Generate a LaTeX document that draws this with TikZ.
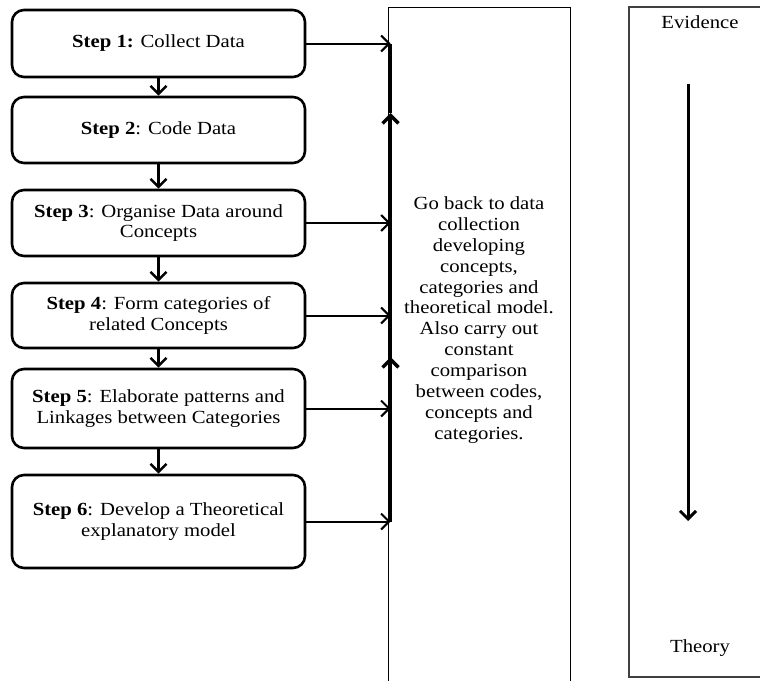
\documentclass[tikz,border=0pt]{standalone}
\usepackage{fontspec}
\setmainfont{Liberation Serif}[FakeStretch=1.12]
\usetikzlibrary{arrows.meta}
\begin{document}
\begin{tikzpicture}[x=1pt,y=-1pt,
        stepbox/.style={draw, line width=2.6pt, rounded corners=12pt,
            minimum width=293pt, align=center, inner sep=2pt,
            font=\fontsize{18.5}{20.7}\selectfont},
        link/.style={line width=2pt, -{Straight Barb[length=8pt,width=16pt]}},
        spine/.style={line width=3.4pt},
        plain/.style={font=\fontsize{18.5}{20.9}\selectfont, align=center}]
        \useasboundingbox (0,0) rectangle (760,680);

        \node[stepbox, minimum height=67pt] (step1) at (158.5,43.5) {\textbf{Step 1:} Collect Data};
        \node[stepbox, minimum height=66pt] (step2) at (158.5,130) {\textbf{Step 2}: Code Data};
        \node[stepbox, minimum height=66pt] (step3) at (158.5,223) {\textbf{Step 3}: Organise Data around\\Concepts};
        \node[stepbox, minimum height=65pt] (step4) at (158.5,315.5) {\textbf{Step 4}: Form categories of\\related Concepts};
        \node[stepbox, minimum height=79pt] (step5) at (158.5,408.5) {\textbf{Step 5}: Elaborate patterns and\\Linkages between Categories};
        \node[stepbox, minimum height=93pt] (step6) at (158.5,521.5) {\textbf{Step 6}: Develop a Theoretical\\explanatory model};

        % feedback column
        \draw[line width=1pt] (388,700) -- (388,7) -- (570,7) -- (570,700);
        \node[plain] (goBack) at (479,320) {
            Go back to data\\
            collection\\
            developing\\
            concepts,\\
            categories and\\
            theoretical model.\\
            Also carry out\\
            constant\\
            comparison\\
            between codes,\\
            concepts and\\
            categories.
        };

        % evidence to theory column
        \draw[line width=1.3pt, black!75] (775,7) -- (629,7) -- (629,677) -- (775,677);
        \node[plain] (evidence) at (700,22) {Evidence};
        \node[plain] (theory) at (700,648) {Theory};
        \coordinate (evTop) at (688,84);
        \coordinate (evBottom) at (688,521);
        \draw[link, line width=3pt] (evTop) -- (evBottom);

        \coordinate (spineX) at (390.5,0);
        \coordinate (upTip1) at (390.5,113);
        \coordinate (upTip2) at (390.5,357);

        \draw[link, line width=2.6pt] (step1) -- (step2);
        \draw[link, line width=2.6pt] (step2) -- (step3);
        \draw[link, line width=2.6pt] (step3) -- (step4);
        \draw[link, line width=2.6pt] (step4) -- (step5);
        \draw[link, line width=2.6pt] (step5) -- (step6);

        \draw[link] (step1.east) -- (step1.east -| spineX);
        \draw[link] (step3.east) -- (step3.east -| spineX);
        \draw[link] (step4.east) -- (step4.east -| spineX);
        \draw[link] (step5.east) -- (step5.east -| spineX);
        \draw[link] (step6.east) -- (step6.east -| spineX);

        \draw[spine] (step6.east -| spineX) -- (upTip2);
        \draw[link, spine] (step6.east -| spineX) -- (upTip2);
        \draw[link, spine] (upTip2) -- (upTip1);
        \draw[spine] (upTip1) -- (step1.east -| spineX);
    \end{tikzpicture}
\end{document}
